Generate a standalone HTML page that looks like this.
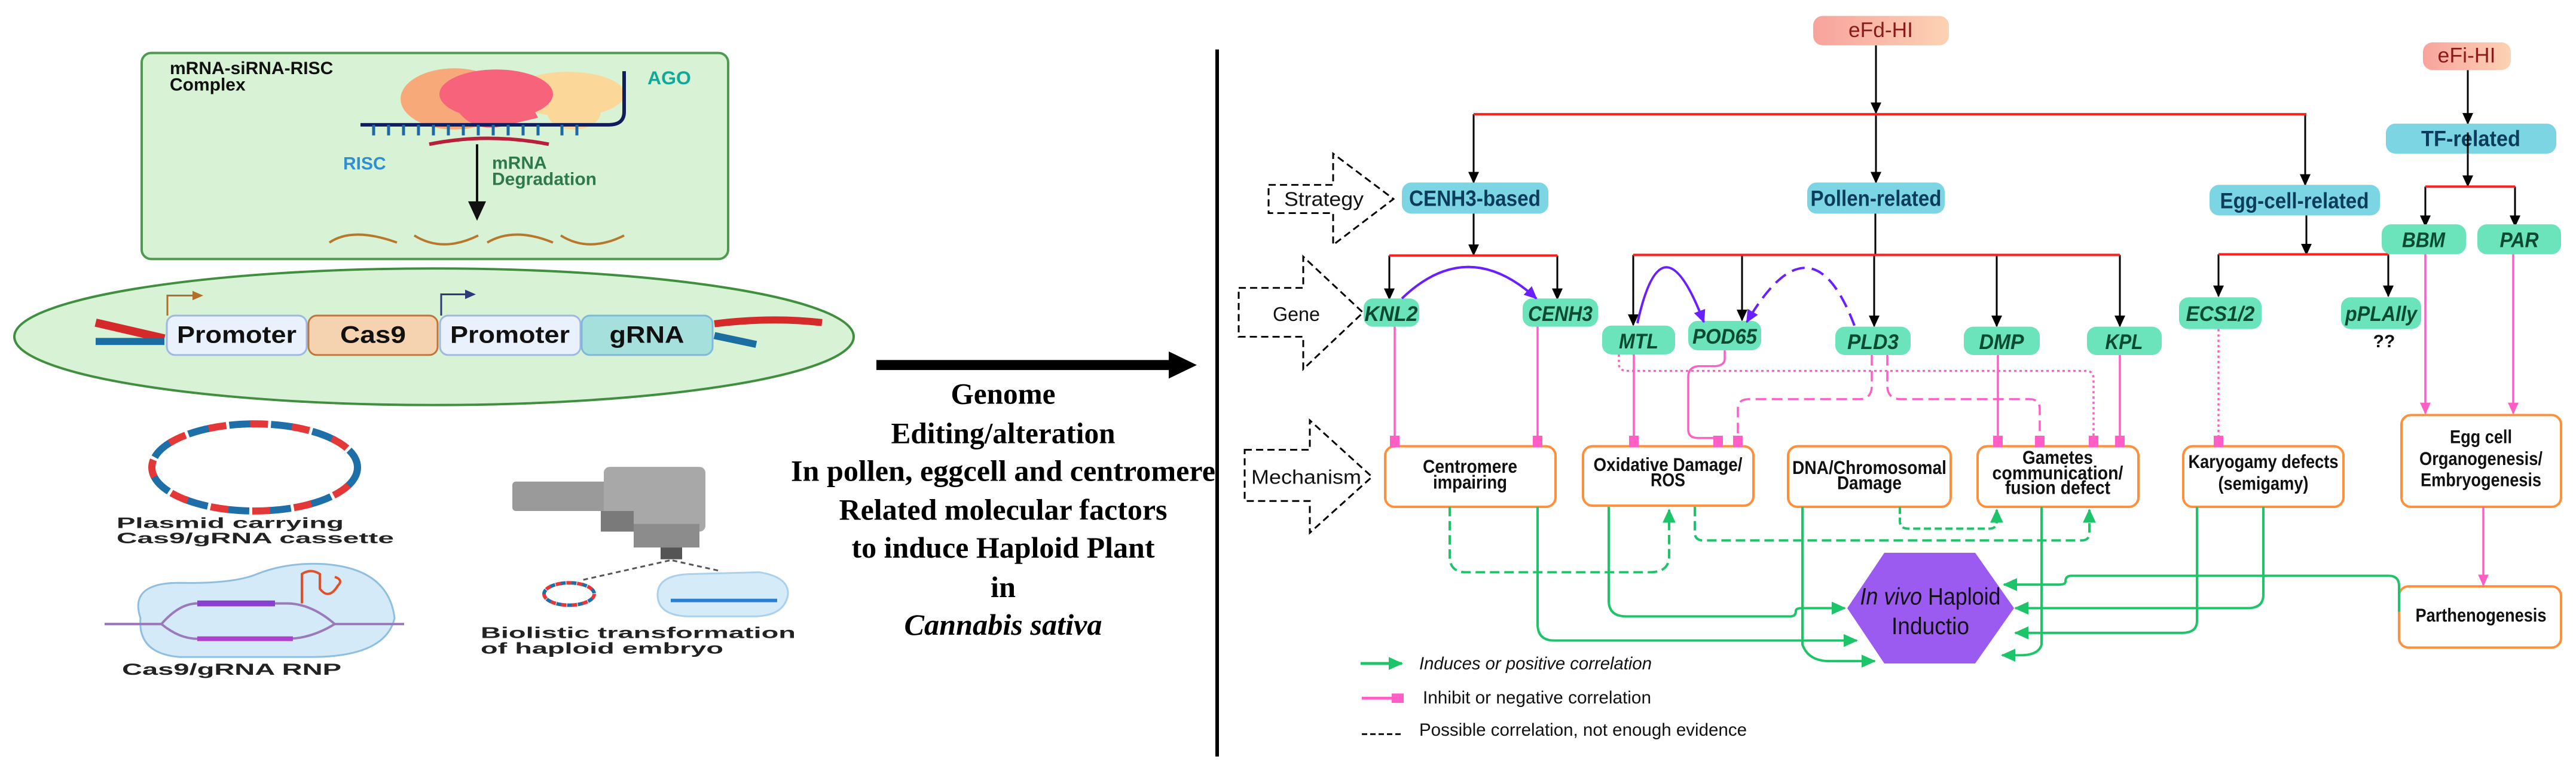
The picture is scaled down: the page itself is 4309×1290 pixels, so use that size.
<!DOCTYPE html>
<html><head><meta charset="utf-8"><style>
html,body{margin:0;padding:0;background:#fff;}
svg{display:block}
text{font-family:"Liberation Sans",sans-serif;}
text.serif{font-family:"Liberation Serif",serif;font-weight:bold}
.b{font-weight:bold}
</style></head><body>
<svg width="4309" height="1290" viewBox="0 0 4309 1290" xmlns="http://www.w3.org/2000/svg">
<defs>
<marker id="ak" markerUnits="userSpaceOnUse" markerWidth="22" markerHeight="22" refX="18" refY="11" orient="auto"><path d="M0,2 L20,11 L0,20 z" fill="#000"/></marker>
<marker id="ag" markerUnits="userSpaceOnUse" markerWidth="26" markerHeight="26" refX="22" refY="13" orient="auto"><path d="M0,2 L24,13 L0,24 z" fill="#1ec46a"/></marker>
<marker id="ap" markerUnits="userSpaceOnUse" markerWidth="22" markerHeight="22" refX="18" refY="11" orient="auto"><path d="M0,2 L20,11 L0,20 z" fill="#ff5fc4"/></marker>
<marker id="av" markerUnits="userSpaceOnUse" markerWidth="24" markerHeight="24" refX="20" refY="12" orient="auto"><path d="M0,2 L22,12 L0,22 z" fill="#6a1fff"/></marker>
<marker id="sq" markerUnits="userSpaceOnUse" markerWidth="20" markerHeight="20" refX="10" refY="10" orient="auto"><rect x="0" y="2" width="20" height="16" fill="#ff5fc4"/></marker>
<linearGradient id="pk" x1="0" x2="1"><stop offset="0" stop-color="#f8a39c"/><stop offset="1" stop-color="#fcd2b4"/></linearGradient>
</defs>
<g transform="scale(1,0.985)">
<!-- LEFT PANEL -->
<rect x="237" y="90" width="981" height="350" rx="16" fill="#d8f2d6" stroke="#4e9a4e" stroke-width="4"/>
<text x="284" y="126" font-size="30" class="b" fill="#111">mRNA-siRNA-RISC</text>
<text x="284" y="154" font-size="30" class="b" fill="#111">Complex</text>
<text x="1083" y="143" font-size="32" class="b" fill="#11a89a">AGO</text>
<ellipse cx="760" cy="168" rx="90" ry="52" fill="#f8a97a"/>
<ellipse cx="950" cy="160" rx="95" ry="38" fill="#fbd79a"/>
<ellipse cx="960" cy="190" rx="45" ry="30" fill="#fbd79a"/>
<ellipse cx="830" cy="160" rx="95" ry="42" fill="#f7637a"/>
<path d="M760,180 Q790,230 850,212 L900,200 L880,160 Z" fill="#f7637a"/>
<path d="M603,212 L1018,212 Q1044,212 1044,190 L1044,121" fill="none" stroke="#101c5c" stroke-width="6"/>
<g stroke="#1b6aa5" stroke-width="5"><line x1="625" y1="212" x2="625" y2="230"/><line x1="650" y1="212" x2="650" y2="230"/><line x1="675" y1="212" x2="675" y2="230"/><line x1="700" y1="212" x2="700" y2="230"/><line x1="725" y1="212" x2="725" y2="230"/><line x1="750" y1="212" x2="750" y2="230"/><line x1="775" y1="212" x2="775" y2="230"/><line x1="800" y1="212" x2="800" y2="230"/><line x1="825" y1="212" x2="825" y2="230"/><line x1="850" y1="212" x2="850" y2="230"/><line x1="875" y1="212" x2="875" y2="230"/><line x1="900" y1="212" x2="900" y2="230"/><line x1="940" y1="212" x2="940" y2="230"/><line x1="965" y1="212" x2="965" y2="230"/></g>
<path d="M718,245 Q815,225 918,245" fill="none" stroke="#b8203a" stroke-width="6"/>
<text x="574" y="288" font-size="30" class="b" fill="#2e8fd4">RISC</text>
<text x="823" y="287" font-size="30" class="b" fill="#2f7a4a">mRNA</text>
<text x="823" y="314" font-size="30" class="b" fill="#2f7a4a">Degradation</text>
<line x1="798" y1="245" x2="798" y2="345" stroke="#111" stroke-width="4"/>
<path d="M783,342 L813,342 L798,375 Z" fill="#111"/>
<g fill="none" stroke="#b8782c" stroke-width="4"><path d="M551,412 Q590,385 664,412"/><path d="M693,400 Q740,430 800,400"/><path d="M815,412 Q860,385 925,412"/><path d="M938,400 Q985,430 1044,400"/></g>
<ellipse cx="726" cy="572" rx="702" ry="116" fill="#d8f2d6" stroke="#3f8f3f" stroke-width="4"/>
<path d="M160,548 L275,575" stroke="#d42a2a" stroke-width="14"/><path d="M160,580 L275,580" stroke="#1a6fa0" stroke-width="12"/>
<path d="M1195,550 Q1290,538 1375,548" stroke="#d42a2a" stroke-width="12" fill="none"/><path d="M1195,570 L1265,585" stroke="#1a6fa0" stroke-width="12"/>
<rect x="279" y="536" width="234" height="67" rx="14" fill="#e8f1fc" stroke="#9db9e2" stroke-width="3"/>
<rect x="516" y="536" width="216" height="67" rx="14" fill="#f5d2b0" stroke="#c0763a" stroke-width="3"/>
<rect x="736" y="536" width="235" height="67" rx="14" fill="#e8f1fc" stroke="#9db9e2" stroke-width="3"/>
<rect x="973" y="536" width="219" height="67" rx="14" fill="#a6e0dd" stroke="#7fb9d8" stroke-width="3"/>
<text x="396" y="582" font-size="40" class="b" text-anchor="middle" textLength="200" lengthAdjust="spacingAndGlyphs" fill="#111">Promoter</text>
<text x="624" y="582" font-size="40" class="b" text-anchor="middle" textLength="110" lengthAdjust="spacingAndGlyphs" fill="#111">Cas9</text>
<text x="853" y="582" font-size="40" class="b" text-anchor="middle" textLength="200" lengthAdjust="spacingAndGlyphs" fill="#111">Promoter</text>
<text x="1082" y="582" font-size="40" class="b" text-anchor="middle" textLength="125" lengthAdjust="spacingAndGlyphs" fill="#111">gRNA</text>
<path d="M280,536 L280,502 L325,502" fill="none" stroke="#b0702a" stroke-width="3"/><path d="M322,494 L340,502 L322,510z" fill="#b0702a"/>
<path d="M738,536 L738,500 L780,500" fill="none" stroke="#2c3b78" stroke-width="3"/><path d="M778,492 L796,500 L778,508z" fill="#2c3b78"/>
<!-- plasmid -->
<ellipse cx="426" cy="794" rx="172" ry="74" fill="none" stroke="#1e6fa8" stroke-width="12" stroke-dasharray="40 30"/>
<ellipse cx="426" cy="794" rx="172" ry="74" fill="none" stroke="#e43838" stroke-width="12" stroke-dasharray="30 40" stroke-dashoffset="35"/>
<text x="195" y="897" font-size="25" class="b" fill="#222" textLength="380" lengthAdjust="spacingAndGlyphs">Plasmid carrying</text>
<text x="195" y="923" font-size="25" class="b" fill="#222" textLength="464" lengthAdjust="spacingAndGlyphs">Cas9/gRNA cassette</text>
<path d="M235,1050 Q215,990 300,990 Q390,992 430,975 Q480,955 540,958 Q650,965 660,1050 Q645,1116 520,1116 L300,1116 Q230,1110 235,1050 Z" fill="#d4eaf8" stroke="#8fbfe0" stroke-width="3"/>
<path d="M175,1060 L270,1060 Q300,1025 330,1025 L480,1025 Q520,1025 560,1060 L676,1060" fill="none" stroke="#9a7ab8" stroke-width="4"/>
<path d="M175,1060 L270,1060 Q300,1085 330,1085 L480,1085 Q520,1085 560,1060" fill="none" stroke="#9a7ab8" stroke-width="4"/>
<line x1="330" y1="1025" x2="460" y2="1025" stroke="#8a3fd0" stroke-width="10"/>
<line x1="330" y1="1085" x2="490" y2="1085" stroke="#b040d0" stroke-width="8"/>
<path d="M505,1025 L505,975 Q520,965 535,975 L535,1000 Q550,1020 565,995 Q575,985 560,980" fill="none" stroke="#e0502a" stroke-width="4"/>
<text x="204" y="1146" font-size="27" class="b" fill="#222" textLength="367" lengthAdjust="spacingAndGlyphs">Cas9/gRNA RNP</text>
<!-- gene gun -->
<rect x="857" y="818" width="200" height="50" rx="6" fill="#9a9a9a"/>
<rect x="1010" y="793" width="170" height="110" rx="10" fill="#a8a8a8"/>
<rect x="1060" y="890" width="110" height="40" fill="#8c8c8c"/>
<rect x="1005" y="868" width="55" height="35" fill="#7a7a7a"/>
<rect x="1105" y="930" width="36" height="20" fill="#555"/>
<line x1="1120" y1="952" x2="975" y2="985" stroke="#555" stroke-width="3" stroke-dasharray="8 6"/>
<line x1="1125" y1="952" x2="1205" y2="970" stroke="#555" stroke-width="3" stroke-dasharray="8 6"/>
<ellipse cx="952" cy="1009" rx="42" ry="19" fill="none" stroke="#e43838" stroke-width="6" stroke-dasharray="10 8"/>
<ellipse cx="952" cy="1009" rx="42" ry="19" fill="none" stroke="#1e6fa8" stroke-width="6" stroke-dasharray="8 10" stroke-dashoffset="9"/>
<path d="M1100,1010 Q1100,975 1160,975 L1270,972 Q1320,980 1318,1010 Q1312,1047 1260,1047 L1150,1047 Q1100,1045 1100,1010Z" fill="#d6ebf8" stroke="#a9d0ec" stroke-width="3"/>
<line x1="1122" y1="1020" x2="1300" y2="1020" stroke="#2a7fd0" stroke-width="6"/>
<text x="804" y="1084" font-size="26" class="b" fill="#222" textLength="527" lengthAdjust="spacingAndGlyphs">Biolistic transformation</text>
<text x="804" y="1110" font-size="26" class="b" fill="#222" textLength="406" lengthAdjust="spacingAndGlyphs">of haploid embryo</text>
<!-- big arrow -->
<line x1="1466" y1="620" x2="1960" y2="620" stroke="#000" stroke-width="17"/>
<path d="M1955,597 L2002,620 L1955,643 Z" fill="#000"/>
<g font-size="50" text-anchor="middle" fill="#000">
<text class="serif" x="1678" y="686" textLength="175" lengthAdjust="spacingAndGlyphs">Genome</text>
<text class="serif" x="1678" y="753" textLength="375" lengthAdjust="spacingAndGlyphs">Editing/alteration</text>
<text class="serif" x="1678" y="817" textLength="710" lengthAdjust="spacingAndGlyphs">In pollen, eggcell and centromere</text>
<text class="serif" x="1678" y="883" textLength="549" lengthAdjust="spacingAndGlyphs">Related molecular factors</text>
<text class="serif" x="1678" y="947" textLength="507" lengthAdjust="spacingAndGlyphs">to induce Haploid Plant</text>
<text class="serif" x="1678" y="1014" textLength="42" lengthAdjust="spacingAndGlyphs">in</text>
<text class="serif" x="1678" y="1078" font-style="italic" textLength="331" lengthAdjust="spacingAndGlyphs">Cannabis sativa</text>
</g>
<line x1="2036" y1="84" x2="2036" y2="1285" stroke="#000" stroke-width="6"/>

<!-- RIGHT PANEL -->
<g fill="none" stroke="#000" stroke-width="3">
<line x1="3138" y1="77" x2="3138" y2="192" marker-end="url(#ak)"/>
<line x1="2465" y1="194" x2="2465" y2="310" marker-end="url(#ak)"/>
<line x1="3138" y1="194" x2="3138" y2="310" marker-end="url(#ak)"/>
<line x1="3856" y1="194" x2="3856" y2="314" marker-end="url(#ak)"/>
<line x1="4128" y1="119" x2="4128" y2="210" marker-end="url(#ak)"/>
<line x1="4128" y1="230" x2="4128" y2="316" marker-end="url(#ak)"/>
<line x1="4057" y1="317" x2="4057" y2="384" marker-end="url(#ak)"/>
<line x1="4207" y1="317" x2="4207" y2="384" marker-end="url(#ak)"/>
<line x1="2465" y1="363" x2="2465" y2="433" marker-end="url(#ak)"/>
<line x1="2324" y1="434" x2="2324" y2="508" marker-end="url(#ak)"/>
<line x1="2605" y1="434" x2="2605" y2="508" marker-end="url(#ak)"/>
<line x1="3137" y1="363" x2="3137" y2="433"/>
<line x1="2732" y1="433" x2="2732" y2="552" marker-end="url(#ak)"/>
<line x1="2914" y1="433" x2="2914" y2="544" marker-end="url(#ak)"/>
<line x1="3135" y1="433" x2="3135" y2="554" marker-end="url(#ak)"/>
<line x1="3340" y1="433" x2="3340" y2="554" marker-end="url(#ak)"/>
<line x1="3546" y1="433" x2="3546" y2="554" marker-end="url(#ak)"/>
<line x1="3858" y1="366" x2="3858" y2="432" marker-end="url(#ak)"/>
<line x1="3711" y1="432" x2="3711" y2="503" marker-end="url(#ak)"/>
<line x1="3995" y1="432" x2="3995" y2="503" marker-end="url(#ak)"/>
</g>
<g stroke="#ff1f1f" stroke-width="4">
<line x1="2465" y1="194" x2="3858" y2="194"/>
<line x1="4057" y1="317" x2="4207" y2="317"/>
<line x1="2324" y1="434" x2="2605" y2="434"/>
<line x1="2732" y1="433" x2="3546" y2="433"/>
<line x1="3711" y1="432" x2="3995" y2="432"/>
</g>
<rect x="3033" y="27" width="227" height="50" rx="16" fill="url(#pk)"/>
<text x="3146" y="63" font-size="36" text-anchor="middle" textLength="108" lengthAdjust="spacingAndGlyphs" fill="#8b1a1a">eFd-HI</text>
<rect x="4053" y="72" width="147" height="47" rx="16" fill="url(#pk)"/>
<text x="4126" y="106" font-size="36" text-anchor="middle" textLength="97" lengthAdjust="spacingAndGlyphs" fill="#8b1a1a">eFi-HI</text>
<g fill="#7cd5e2">
<rect x="2345" y="310" width="245" height="53" rx="16"/>
<rect x="3023" y="310" width="230" height="53" rx="16"/>
<rect x="3696" y="314" width="285" height="52" rx="16"/>
<rect x="3991" y="210" width="285" height="51" rx="16"/>
</g>
<g font-size="38" text-anchor="middle" fill="#0b3c5c" class="b">
<text x="2467" y="350" textLength="220" lengthAdjust="spacingAndGlyphs">CENH3-based</text>
<text x="3138" y="350" textLength="219" lengthAdjust="spacingAndGlyphs">Pollen-related</text>
<text x="3838" y="354" textLength="249" lengthAdjust="spacingAndGlyphs">Egg-cell-related</text>
<text x="4133" y="248" textLength="166" lengthAdjust="spacingAndGlyphs">TF-related</text>
</g>
<line x1="4128" y1="225" x2="4128" y2="261" stroke="#000" stroke-width="3"/>
<g fill="#6be3bb">
<rect x="2281" y="507" width="93" height="48" rx="16"/>
<rect x="2547" y="507" width="126" height="48" rx="16"/>
<rect x="2680" y="553" width="122" height="49" rx="16"/>
<rect x="2824" y="545" width="122" height="50" rx="16"/>
<rect x="3070" y="555" width="126" height="48" rx="16"/>
<rect x="3285" y="555" width="127" height="48" rx="16"/>
<rect x="3491" y="555" width="125" height="48" rx="16"/>
<rect x="3645" y="505" width="138" height="54" rx="16"/>
<rect x="3916" y="505" width="134" height="54" rx="16"/>
<rect x="3984" y="381" width="141" height="51" rx="16"/>
<rect x="4144" y="381" width="140" height="51" rx="16"/>
</g>
<g font-size="36" text-anchor="middle" fill="#0a4a30" class="b" font-style="italic">
<text x="2327" y="545" textLength="89" lengthAdjust="spacingAndGlyphs">KNL2</text>
<text x="2610" y="545" textLength="108" lengthAdjust="spacingAndGlyphs">CENH3</text>
<text x="2741" y="592" textLength="66" lengthAdjust="spacingAndGlyphs">MTL</text>
<text x="2885" y="584" textLength="108" lengthAdjust="spacingAndGlyphs">POD65</text>
<text x="3133" y="593" textLength="86" lengthAdjust="spacingAndGlyphs">PLD3</text>
<text x="3348" y="593" textLength="75" lengthAdjust="spacingAndGlyphs">DMP</text>
<text x="3553" y="593" textLength="63" lengthAdjust="spacingAndGlyphs">KPL</text>
<text x="3714" y="545" textLength="115" lengthAdjust="spacingAndGlyphs">ECS1/2</text>
<text x="3983" y="545" textLength="120" lengthAdjust="spacingAndGlyphs">pPLAlly</text>
<text x="4054" y="420" textLength="72" lengthAdjust="spacingAndGlyphs">BBM</text>
<text x="4214" y="420" textLength="65" lengthAdjust="spacingAndGlyphs">PAR</text>
</g>
<text x="3988" y="590" font-size="30" class="b" text-anchor="middle" fill="#111">??</text>
<g fill="#fff" stroke="#000" stroke-width="3" stroke-dasharray="12 7">
<path d="M2122,314 L2230,314 L2230,261 L2331,338 L2230,416 L2230,362 L2122,362 Z"/>
<path d="M2072,489 L2180,489 L2180,436 L2280,531 L2180,627 L2180,572 L2072,572 Z"/>
<path d="M2082,764 L2191,764 L2191,714 L2295,810 L2191,905 L2191,851 L2082,851 Z"/>
</g>
<text x="2148" y="350" font-size="34" textLength="133" lengthAdjust="spacingAndGlyphs" fill="#111">Strategy</text>
<text x="2129" y="545" font-size="34" textLength="79" lengthAdjust="spacingAndGlyphs" fill="#111">Gene</text>
<text x="2093" y="822" font-size="34" textLength="184" lengthAdjust="spacingAndGlyphs" fill="#111">Mechanism</text>
<path d="M2345,507 Q2455,400 2570,507" fill="none" stroke="#6a1fff" stroke-width="4" marker-end="url(#av)"/>
<path d="M2739,549 Q2780,360 2850,547" fill="none" stroke="#6a1fff" stroke-width="4" marker-end="url(#av)"/>
<path d="M3102,553 Q3030,360 2922,547" fill="none" stroke="#6a1fff" stroke-width="4" stroke-dasharray="22 12" marker-end="url(#av)"/>
<g fill="#fff" stroke="#ff8f3a" stroke-width="4">
<rect x="2317" y="758" width="285" height="103" rx="16"/>
<rect x="2648" y="758" width="285" height="101" rx="16"/>
<rect x="2991" y="758" width="272" height="103" rx="16"/>
<rect x="3308" y="758" width="269" height="103" rx="16"/>
<rect x="3652" y="758" width="268" height="103" rx="16"/>
<rect x="4017" y="705" width="267" height="156" rx="16"/>
<rect x="4013" y="996" width="271" height="104" rx="16"/>
</g>
<g font-size="32" text-anchor="middle" fill="#111" class="b">
<text x="2459" y="803" textLength="158" lengthAdjust="spacingAndGlyphs">Centromere</text>
<text x="2459" y="830" textLength="124" lengthAdjust="spacingAndGlyphs">impairing</text>
<text x="2790" y="800" textLength="249" lengthAdjust="spacingAndGlyphs">Oxidative Damage/</text>
<text x="2790" y="826" textLength="58" lengthAdjust="spacingAndGlyphs">ROS</text>
<text x="3127" y="805" textLength="258" lengthAdjust="spacingAndGlyphs">DNA/Chromosomal</text>
<text x="3127" y="831" textLength="108" lengthAdjust="spacingAndGlyphs">Damage</text>
<text x="3442" y="788" textLength="118" lengthAdjust="spacingAndGlyphs">Gametes</text>
<text x="3442" y="814" textLength="219" lengthAdjust="spacingAndGlyphs">communication/</text>
<text x="3442" y="839" textLength="176" lengthAdjust="spacingAndGlyphs">fusion defect</text>
<text x="3786" y="795" textLength="251" lengthAdjust="spacingAndGlyphs">Karyogamy defects</text>
<text x="3786" y="832" textLength="151" lengthAdjust="spacingAndGlyphs">(semigamy)</text>
<text x="4150" y="753" textLength="104" lengthAdjust="spacingAndGlyphs">Egg cell</text>
<text x="4150" y="790" textLength="206" lengthAdjust="spacingAndGlyphs">Organogenesis/</text>
<text x="4150" y="826" textLength="202" lengthAdjust="spacingAndGlyphs">Embryogenesis</text>
<text x="4150" y="1056" textLength="219" lengthAdjust="spacingAndGlyphs">Parthenogenesis</text>
</g>
<g fill="none" stroke="#ff5fc4" stroke-width="3.5">
<line x1="2333" y1="555" x2="2333" y2="750" marker-end="url(#sq)"/>
<line x1="2572" y1="555" x2="2572" y2="750" marker-end="url(#sq)"/>
<line x1="2733" y1="602" x2="2733" y2="750" marker-end="url(#sq)"/>
<path d="M2885,595 L2885,610 Q2885,620 2870,622 L2840,622 Q2824,624 2824,640 L2824,730 Q2824,744 2840,744 L2874,744" />
<line x1="2874" y1="744" x2="2874" y2="750" marker-end="url(#sq)"/>
<path d="M3131,603 L3131,655 Q3131,678 3110,678 L2925,678 Q2907,678 2907,695 L2907,750" stroke-dasharray="18 9" marker-end="url(#sq)"/>
<path d="M3157,603 L3157,655 Q3157,678 3180,678 L3395,678 Q3412,678 3412,695 L3412,750" stroke-dasharray="18 9" marker-end="url(#sq)"/>
<path d="M2708,602 L2708,618 Q2708,630 2722,630 L3490,630 Q3502,630 3502,645 L3502,750" stroke-dasharray="4 5" marker-end="url(#sq)"/>
<line x1="3342" y1="603" x2="3342" y2="750" marker-end="url(#sq)"/>
<line x1="3546" y1="603" x2="3546" y2="750" marker-end="url(#sq)"/>
<line x1="3711" y1="559" x2="3711" y2="750" stroke-dasharray="4 5" marker-end="url(#sq)"/>
<line x1="4057" y1="432" x2="4057" y2="702" marker-end="url(#ap)"/>
<line x1="4204" y1="432" x2="4204" y2="702" marker-end="url(#ap)"/>
<line x1="4154" y1="861" x2="4154" y2="994" marker-end="url(#ap)"/>
</g>
<path d="M3152,939 L3304,939 L3369,1033 L3304,1127 L3152,1127 L3090,1033 Z" fill="#9b5bf0"/>
<text x="3229" y="1027" font-size="40" text-anchor="middle" fill="#111" textLength="235" lengthAdjust="spacingAndGlyphs"><tspan font-style="italic">In vivo</tspan> Haploid</text>
<text x="3229" y="1077" font-size="40" text-anchor="middle" fill="#111" textLength="130" lengthAdjust="spacingAndGlyphs">Inductio</text>
<g fill="none" stroke="#1ec46a" stroke-width="4">
<path d="M2425,861 L2425,945 Q2425,972 2452,972 L2760,972 Q2792,972 2792,945 L2792,866" stroke-dasharray="16 8" marker-end="url(#ag)"/>
<path d="M2835,861 L2835,905 Q2835,918 2850,918 L3482,918 Q3495,918 3495,905 L3495,866" stroke-dasharray="16 8" marker-end="url(#ag)"/>
<path d="M3178,861 L3178,885 Q3178,898 3192,898 L3328,898 Q3340,898 3340,885 L3340,866" stroke-dasharray="12 6" marker-end="url(#ag)"/>
<path d="M2572,861 L2572,1060 Q2572,1088 2600,1088 L3106,1088" marker-end="url(#ag)"/>
<path d="M2691,861 L2691,1020 Q2691,1047 2720,1047 L2995,1047 Q3004,1047 3004,1038 Q3004,1033 3014,1033 L3086,1033" marker-end="url(#ag)"/>
<path d="M3015,861 L3015,1095 Q3025,1123 3060,1123 L3136,1123" marker-end="url(#ag)"/>
<path d="M3415,861 L3415,1095 Q3410,1113 3380,1113 L3349,1113" marker-end="url(#ag)"/>
<path d="M3786,861 L3786,1010 Q3786,1033 3760,1033 L3371,1033" marker-end="url(#ag)"/>
<path d="M3675,861 L3675,1055 Q3675,1075 3650,1075 L3371,1075" marker-end="url(#ag)"/>
<path d="M4013,1039 L4013,995 Q4013,978 3995,978 L3465,978 Q3455,978 3455,988 Q3455,993 3445,993 L3352,993" marker-end="url(#ag)"/>
</g>
<line x1="2276" y1="1127" x2="2345" y2="1127" stroke="#1ec46a" stroke-width="5" marker-end="url(#ag)"/>
<text x="2374" y="1137" font-size="30" font-style="italic" fill="#111" textLength="389" lengthAdjust="spacingAndGlyphs">Induces or positive correlation</text>
<line x1="2278" y1="1186" x2="2338" y2="1186" stroke="#ff5fc4" stroke-width="5" marker-end="url(#sq)"/>
<text x="2380" y="1195" font-size="30" fill="#111" textLength="382" lengthAdjust="spacingAndGlyphs">Inhibit or negative correlation</text>
<line x1="2278" y1="1247" x2="2348" y2="1247" stroke="#000" stroke-width="3" stroke-dasharray="9 5"/>
<text x="2374" y="1250" font-size="30" fill="#111" textLength="548" lengthAdjust="spacingAndGlyphs">Possible correlation, not enough evidence</text>
</g>
</svg>
</body></html>
